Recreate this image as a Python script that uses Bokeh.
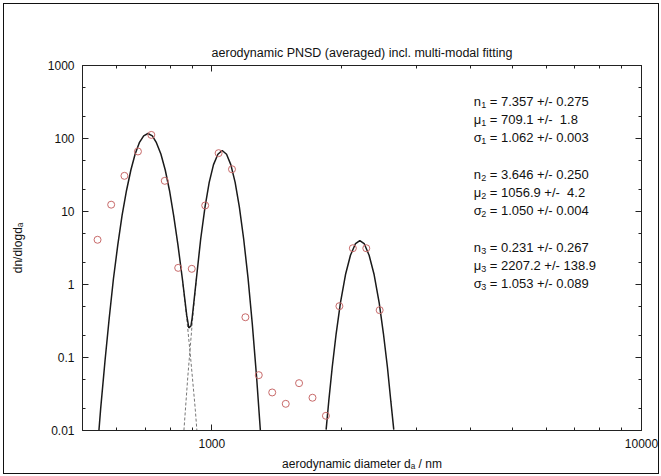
from bokeh.plotting import figure
from bokeh.models import (LogAxis, FixedTicker, Range1d, CustomJSTickFormatter,
                          ColumnDataSource)
from bokeh.core.properties import value
from bokeh.embed import file_html
from bokeh.resources import INLINE

# ---------------- data ----------------
title_text = "aerodynamic PNSD (averaged) incl. multi-modal fitting"
x_label = "aerodynamic diameter d\u2090 / nm"
y_label = "dn/dlogd\u2090"

# measured size distribution (APS channels)
diam = [542, 583, 626, 673, 723, 777, 835, 898, 965, 1037, 1114,
        1197, 1286, 1382, 1486, 1596, 1715, 1843, 1981, 2129, 2288, 2458]
dndlogd = [4.1, 12.4, 30.8, 66.4, 112, 26.3, 1.69, 1.64, 12.1, 63, 37.9,
           0.356, 0.0573, 0.0332, 0.0232, 0.0445, 0.0281, 0.0159, 0.505, 3.14, 3.14, 0.445]

# fitted sum of modes 1 and 2 (solid)
fit12_d = [546, 551, 564, 577, 590, 604, 618, 633, 648, 663, 678, 694, 710, 727, 743,
           761, 779, 797, 815, 834, 854, 874, 884, 894, 900, 921, 942, 964, 986, 1009,
           1033, 1057, 1082, 1107, 1133, 1159, 1186, 1214, 1242, 1271, 1297]
fit12_v = [0.01, 0.0196, 0.0887, 0.348, 1.18, 3.46, 8.8, 19.4, 37.0, 61.2, 87.7, 108.9, 117,
           108.9, 87.7, 61.2, 37.0, 19.4, 8.8, 3.46, 1.19, 0.38, 0.255, 0.27, 0.35, 1.23,
           4.2, 11.5, 25.1, 43.9, 60.8, 68.5, 60.8, 43.9, 25.1, 11.5, 4.2, 1.23, 0.29,
           0.054, 0.01]

# fitted mode 3 (solid)
fit3_d = [1845, 1871, 1906, 1947, 1992, 2047, 2102, 2160, 2210, 2262, 2323, 2386,
          2452, 2508, 2563, 2610, 2651]
fit3_v = [0.0103, 0.025, 0.073, 0.213, 0.56, 1.37, 2.52, 3.64, 4.0, 3.64, 2.52, 1.37,
          0.56, 0.213, 0.073, 0.025, 0.0103]

# single-mode tails (dashed) where they leave the sum curve
mode1_tail_d = [854, 874, 894, 915, 923]
mode1_tail_v = [1.18, 0.348, 0.0887, 0.0196, 0.01]
mode2_tail_d = [921, 900, 879, 861]
mode2_tail_v = [1.23, 0.29, 0.054, 0.01]

# fit parameters text
param_sym = ["n", "\u03bc", "\u03c3", "n", "\u03bc", "\u03c3", "n", "\u03bc", "\u03c3"]
param_sub = ["1", "1", "1", "2", "2", "2", "3", "3", "3"]
param_rest = ["= 7.357 +/- 0.275", "= 709.1 +/- \u00a01.8", "= 1.062 +/- 0.003",
              "= 3.646 +/- 0.250", "= 1056.9 +/- \u00a04.2", "= 1.050 +/- 0.004",
              "= 0.231 +/- 0.267", "= 2207.2 +/- 138.9", "= 1.053 +/- 0.089"]

x_major = [1000, 10000]
x_minor = [600, 700, 800, 900, 2000, 3000, 4000, 5000, 6000, 7000, 8000, 9000]
y_major = [0.01, 0.1, 1, 10, 100, 1000]
y_minor = [0.02, 0.05, 0.2, 0.5, 2, 5, 20, 50, 200, 500]

# ---------------- figure ----------------
FONT = "Liberation Sans"

p = figure(x_axis_type="log", y_axis_type="log",
           x_range=Range1d(500, 10000), y_range=Range1d(0.01, 1000),
           frame_width=559, frame_height=365,
           min_border_left=78, min_border_right=17, min_border_top=61, min_border_bottom=42,
           output_backend="svg", toolbar_location=None, title=title_text)
p.styles = {"border": "1px solid #111", "margin": "3px 0 0 3px"}
p.background_fill_color = "white"
p.border_fill_color = "white"
p.outline_line_color = "#222"
p.grid.visible = False

p.title.align = "center"
p.title.text_font = FONT
p.title.text_font_size = "12.5px"
p.title.text_font_style = "normal"
p.title.text_color = "#111"
p.title.standoff = 12

fmt = CustomJSTickFormatter(code="return tick.toString();")
blank = CustomJSTickFormatter(code="return '';")
xt = FixedTicker(ticks=x_major, minor_ticks=x_minor)
yt = FixedTicker(ticks=y_major, minor_ticks=y_minor)

bottom_ax = p.below[0]
left_ax = p.left[0]
bottom_ax.ticker = xt
left_ax.ticker = yt

top_ax = LogAxis(ticker=xt, formatter=blank)
right_ax = LogAxis(ticker=yt, formatter=blank)
p.add_layout(top_ax, "above")
p.add_layout(right_ax, "right")

for ax in [bottom_ax, left_ax, top_ax, right_ax]:
    ax.axis_line_color = "#222"
    ax.major_tick_line_color = "#222"
    ax.minor_tick_line_color = "#222"
    ax.major_tick_in = 6
    ax.major_tick_out = 0
    ax.minor_tick_in = 3
    ax.minor_tick_out = 0
    ax.major_label_text_font = FONT
    ax.major_label_text_font_size = "12px"
    ax.major_label_text_color = "#111"
    ax.major_label_standoff = 8
    ax.axis_label_text_font = FONT
    ax.axis_label_text_font_size = "12px"
    ax.axis_label_text_font_style = "normal"
    ax.axis_label_text_color = "#111"
bottom_ax.formatter = fmt
left_ax.formatter = fmt
for ax in [top_ax, right_ax]:
    ax.major_label_standoff = 0

bottom_ax.axis_label = x_label
bottom_ax.axis_label_standoff = 6
left_ax.axis_label = y_label
left_ax.axis_label_standoff = 20

# curves
p.line(mode1_tail_d, mode1_tail_v, line_color="#777777", line_width=1, line_dash="3 2")
p.line(mode2_tail_d, mode2_tail_v, line_color="#777777", line_width=1, line_dash="3 2")
p.line(fit12_d, fit12_v, line_color="#1a1a1a", line_width=1.5)
p.line(fit3_d, fit3_v, line_color="#1a1a1a", line_width=1.5)

# data points
p.scatter(diam, dndlogd, marker="circle", size=7, fill_color=None,
          line_color="#c86a6a", line_width=1)

# parameter text block
TEXT_X = 4070     # data-space anchor of the text block
TEXT_Y = 321
rows = [0, 1, 2, 4, 5, 6, 8, 9, 10]
LINE_H = 18.2
yoffs = [r * LINE_H for r in rows]
n = len(param_sym)
src_sym = ColumnDataSource(dict(x=[TEXT_X] * n, y=[TEXT_Y] * n, t=param_sym, yo=yoffs))
src_sub = ColumnDataSource(dict(x=[TEXT_X] * n, y=[TEXT_Y] * n, t=param_sub,
                                yo=[v + 3.5 for v in yoffs]))
src_rest = ColumnDataSource(dict(x=[TEXT_X] * n, y=[TEXT_Y] * n, t=param_rest, yo=yoffs))
p.text(x="x", y="y", text="t", y_offset="yo", source=src_sym,
       text_font=value(FONT), text_font_size="13px", text_baseline="middle",
       text_align="left", text_color="#111")
p.text(x="x", y="y", text="t", y_offset="yo", x_offset=7.5, source=src_sub,
       text_font=value(FONT), text_font_size="9px", text_baseline="middle",
       text_align="left", text_color="#111")
p.text(x="x", y="y", text="t", y_offset="yo", x_offset=16, source=src_rest,
       text_font=value(FONT), text_font_size="13px", text_baseline="middle",
       text_align="left", text_color="#111")

open("out.html", "w").write(file_html(p, INLINE))
